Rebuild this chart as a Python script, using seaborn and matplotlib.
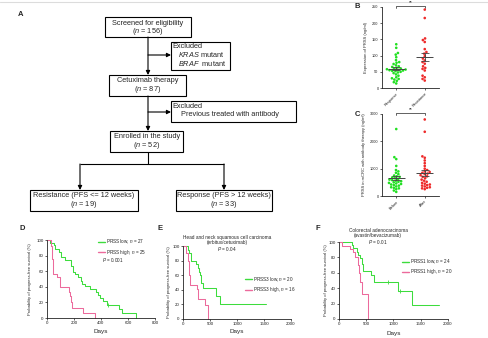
import numpy as np
import pandas as pd
import matplotlib
matplotlib.use('Agg')
import matplotlib.pyplot as plt
import seaborn as sns
from matplotlib.patches import Rectangle
from matplotlib.lines import Line2D

# ---------------- data ----------------
b_groups = ['Response', 'Resistance']
b_response = [135, 124, 108, 103, 95, 86, 80, 78, 74, 70, 67, 65, 62, 60, 59, 58, 57,
              56, 55, 54, 53, 52, 50, 48, 46, 42, 38, 33, 30, 28, 26, 22, 18, 14]
b_resistance = [242, 216, 153, 148, 142, 120, 111, 106, 98, 91, 85, 80, 75, 67, 62,
                59, 54, 38, 33, 28, 23]
b_yticks = [0, 50, 100, 150, 200, 250]

c_groups = ['Before', 'After']
c_before = [2450, 1420, 1350, 1100, 950, 900, 850, 800, 750, 720, 700, 680, 650, 620,
            600, 580, 560, 540, 520, 500, 480, 460, 440, 420, 400, 380, 350, 320, 300,
            280, 250, 200, 150]
c_after = [2800, 2350, 1450, 1400, 1300, 1200, 1100, 1000, 950, 900, 880, 850, 820, 800,
           760, 720, 700, 650, 600, 560, 520, 480, 450, 420, 400, 380, 350, 320, 300,
           280, 250]
c_yticks = [0, 1000, 2000, 3000]

d_low_days = [0, 22, 49, 61, 86, 103, 135, 176, 189, 208, 233, 250, 257, 282, 318, 360, 380, 392, 417, 441, 530, 555, 660]
d_low_surv = [100, 96, 93, 89, 85, 78, 74, 67, 59, 56, 52, 48, 44, 41, 37, 33, 30, 26, 22, 17, 11, 6, 0]
d_high_days = [0, 30, 33, 36, 39, 42, 47, 73, 94, 100, 160, 171, 178, 184, 270, 355]
d_high_surv = [100, 96, 92, 84, 76, 68, 56, 52, 44, 40, 33, 28, 20, 13, 7, 0]
d_low_cens_days = [453]
d_low_cens_surv = [17]

e_low_days = [0, 90, 120, 140, 250, 270, 290, 310, 330, 365, 610, 690, 1540]
e_low_surv = [100, 95, 90, 80, 75, 70, 65, 60, 50, 42, 32, 21, 21]
e_high_days = [0, 56, 87, 118, 136, 254, 272, 408, 470]
e_high_surv = [100, 90, 80, 60, 47, 41, 28, 19, 0]

f_low_days = [0, 232, 262, 323, 354, 384, 415, 430, 445, 580, 650, 1085, 1340, 1830]
f_low_surv = [100, 96, 92, 87, 83, 79, 75, 71, 62, 57, 48, 36, 18, 18]
f_high_days = [0, 50, 200, 262, 293, 340, 354, 366, 391, 415, 537]
f_high_surv = [100, 95, 91, 87, 81, 75, 70, 60, 48, 32, 0]
f_low_cens_days = [905, 1120]
f_low_cens_surv = [48, 36]

# ---------------- style ----------------
sns.set_theme(style='ticks')
plt.rcParams['font.family'] = ['Liberation Sans', 'DejaVu Sans']
plt.rcParams['mathtext.fontset'] = 'custom'
plt.rcParams['mathtext.rm'] = 'Liberation Sans'
plt.rcParams['mathtext.it'] = 'Liberation Sans:italic'
plt.rcParams['mathtext.bf'] = 'Liberation Sans:bold'

GREEN_S = '#22e022'
RED_S = '#ee2a2a'
GREEN_K = '#3ddc3d'
PINK_K = '#ec6a9c'

W, H = 489, 338
fig = plt.figure(figsize=(W / 100, H / 100), dpi=100)
fig.patch.set_facecolor('white')


def frect(l, t, r, b):
    return [l / W, 1 - b / H, (r - l) / W, (b - t) / H]


def fpt(x, y):
    return (x / W, 1 - y / H)


bg = fig.add_axes([0, 0, 1, 1])
bg.set_xlim(0, W)
bg.set_ylim(H, 0)
bg.axis('off')
bg.plot([0, W], [2, 2], color='#dcdcdc', lw=0.8)

# ---------------- panel A flowchart ----------------
FS = 5.3


def box(l, t, r, b):
    bg.add_patch(Rectangle((l, t), r - l, b - t, fill=False, ec='black', lw=0.8))


def seg(x1, y1, x2, y2):
    bg.plot([x1, x2], [y1, y2], color='black', lw=0.8, solid_capstyle='butt')


def arrow(x1, y1, x2, y2):
    bg.annotate('', xy=(x2, y2), xytext=(x1, y1),
                arrowprops=dict(arrowstyle='-|>', color='black', lw=0.8,
                                mutation_scale=6, shrinkA=0, shrinkB=0))


def ctext(x, y, s):
    bg.text(x, y, s, ha='center', va='center', fontsize=FS)


def ltext(x, y, s):
    bg.text(x, y, s, ha='left', va='center', fontsize=FS)


box(105, 17, 191, 37)
ctext(148, 23.5, 'Screened for eligibility')
ctext(148, 31.5, '($n$ = 156)')
box(171, 42, 230, 70)
ltext(172.5, 47, 'Excluded')
ltext(178, 54.5, '$KRAS$ mutant')
ltext(178, 63, '$BRAF$  mutant')
box(109, 75, 186, 96)
ctext(148, 80.5, 'Cetuximab therapy')
ctext(148, 89.5, '($n$ = 87)')
box(171, 101, 296, 122)
ltext(172.5, 106.5, 'Excluded')
ltext(181, 115, 'Previous treated with antibody')
box(110, 131, 183, 152)
ctext(147, 136.5, 'Enrolled in the study')
ctext(147, 145.5, '($n$ = 52)')
box(30, 190, 138, 211)
ctext(84, 195.5, 'Resistance (PFS <= 12 weeks)')
ctext(84, 204.5, '($n$ = 19)')
box(176, 190, 272, 211)
ctext(224, 195.5, 'Response (PFS > 12 weeks)')
ctext(224, 204.5, '($n$ = 33)')

arrow(148, 37, 148, 75)
arrow(148, 55, 171, 55)
arrow(148, 96, 148, 131)
arrow(148, 112, 171, 112)
seg(148, 152, 148, 164)
seg(80, 164, 224, 164)
arrow(80, 164, 80, 190)
arrow(224, 164, 224, 190)

for lab, x, y in [('A', 21, 14), ('B', 357, 7), ('C', 357, 114),
                  ('D', 22, 228), ('E', 160, 228), ('F', 318, 228)]:
    bg.text(x, y, lab, ha='center', va='center', fontsize=5.5, fontweight='bold')


# ---------------- panels B and C: scatter ----------------
def style_axis(ax, fs):
    sns.despine(ax=ax)
    for s in ['left', 'bottom']:
        ax.spines[s].set_linewidth(0.6)
        ax.spines[s].set_color('#222222')
    ax.tick_params(axis='both', length=1.5, width=0.5, pad=1, labelsize=fs, colors='#222222')
    ax.set_facecolor('none')


def scatter_panel(rect, groups, v1, v2, yticks, ylabel, ylabel_x):
    ax = fig.add_axes(frect(*rect))
    df = pd.DataFrame({'group': [groups[0]] * len(v1) + [groups[1]] * len(v2),
                       'value': v1 + v2})
    sns.swarmplot(data=df, x='group', y='value', hue='group', order=groups,
                  palette=[GREEN_S, RED_S], size=1.9, linewidth=0, ax=ax, legend=False)
    stats = df.groupby('group')['value'].agg(['mean', 'sem'])
    for i, g in enumerate(groups):
        m, s = stats.loc[g, 'mean'], stats.loc[g, 'sem']
        ax.hlines(m, i - 0.3, i + 0.3, color='#444444', lw=0.7, zorder=5)
        ax.hlines([m - s, m + s], i - 0.14, i + 0.14, color='#444444', lw=0.6, zorder=5)
        ax.vlines(i, m - s, m + s, color='#444444', lw=0.6, zorder=5)
    ax.set_xlim(-0.5, 1.5)
    ax.set_ylim(yticks[0], yticks[-1])
    ax.set_yticks(yticks)
    ax.set_xlabel('')
    ax.set_ylabel(ylabel, fontsize=3)
    ax.yaxis.set_label_coords(ylabel_x, 0.5)
    style_axis(ax, 2.8)
    for lab in ax.get_xticklabels():
        lab.set_rotation(45)
        lab.set_ha('right')
        lab.set_rotation_mode('anchor')
    tr = ax.get_xaxis_transform()
    ax.plot([0, 0, 1, 1], [0.99, 1.012, 1.012, 0.99], color='#222222', lw=0.5,
            transform=tr, clip_on=False)
    ax.text(0.5, 1.02, '**', ha='center', va='bottom', fontsize=3.5, transform=tr)
    return ax


scatter_panel((382, 7, 439, 88), b_groups, b_response, b_resistance, b_yticks,
              'Expression of PRSS (ng/ml)', -0.25)
scatter_panel((382, 114, 439, 196), c_groups, c_before, c_after, c_yticks,
              'PRSS in mCRC with antibody therapy (ng/ml)', -0.28)


# ---------------- panels D, E, F: Kaplan-Meier ----------------
def km_panel(rect, xmax, xticks, low, high, labels, leg_xy, label_x, days_y,
             spacing, cens=None):
    ax = fig.add_axes(frect(*rect))
    for (dd, ss), col in [(low, GREEN_K), (high, PINK_K)]:
        sns.lineplot(x=dd, y=ss, drawstyle='steps-post', estimator=None, sort=False,
                     color=col, lw=0.75, ax=ax, clip_on=False)
    if cens is not None:
        sns.scatterplot(x=cens[0], y=cens[1], marker='|', color=GREEN_K, s=6,
                        linewidth=0.6, ax=ax)
    ax.set_xlim(0, xmax)
    ax.set_ylim(0, 100)
    ax.set_xticks(xticks)
    ax.set_yticks([0, 20, 40, 60, 80, 100])
    ax.set_xlabel('Days', fontsize=4.6)
    ax.xaxis.set_label_coords(0.5, days_y)
    ax.set_ylabel('Probability of progress-free survival (%)', fontsize=3.0)
    ax.yaxis.set_label_coords(label_x, 0.5)
    style_axis(ax, 3.2)
    handles = [Line2D([], [], color=GREEN_K, lw=1.0), Line2D([], [], color=PINK_K, lw=1.0)]
    ax.legend(handles, labels, loc='upper left', bbox_to_anchor=fpt(*leg_xy),
              bbox_transform=fig.transFigure, frameon=False, fontsize=3.3,
              handlelength=1.5, handletextpad=0.3, borderpad=0, borderaxespad=0,
              labelspacing=spacing)
    return ax


km_panel((47, 240, 155, 318), 800, [0, 200, 400, 600, 800],
         (d_low_days, d_low_surv), (d_high_days, d_high_surv),
         ['PRSS low, $n$ = 27', 'PRSS high, $n$ = 25'], (98, 237.5), -0.14, -0.14,
         0.4, cens=(d_low_cens_days, d_low_cens_surv))
fig.text(*fpt(102, 259.5), '$P$ = 0.001', fontsize=3.3, ha='left', va='center')

km_panel((183, 246, 291, 319), 2000, [0, 500, 1000, 1500, 2000],
         (e_low_days, e_low_surv), (e_high_days, e_high_surv),
         ['PRSS3 low, $n$ = 20', 'PRSS3 high, $n$ = 16'], (245, 275.3), -0.11, -0.14,
         0.3)
fig.text(*fpt(227, 244.4),
         'Head and neck squamous cell carcinoma\n(erbitux/cetuximab)\n$P$ = 0.04',
         fontsize=3.4, ha='center', va='center', linespacing=1.0)

km_panel((339, 242, 448, 319), 2000, [0, 500, 1000, 1500, 2000],
         (f_low_days, f_low_surv), (f_high_days, f_high_surv),
         ['PRSS1 low, $n$ = 24', 'PRSS1 high, $n$ = 20'], (402, 257.5), -0.10, -0.15,
         0.3, cens=(f_low_cens_days, f_low_cens_surv))
fig.text(*fpt(378, 236.5),
         'Colorectal adenocarcinoma\n(avastin/bevacizumab)\n$P$ = 0.01',
         fontsize=3.4, ha='center', va='center', linespacing=1.0)

fig.savefig('out.png', dpi=100, facecolor='white')
